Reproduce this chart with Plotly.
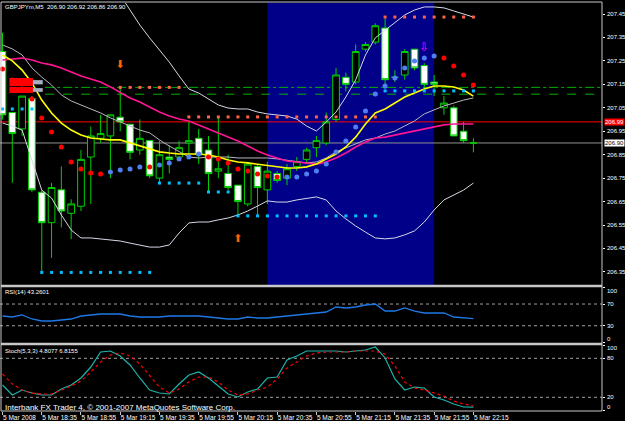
import plotly.graph_objects as go

# ---------------- data ----------------
symbol = "GBPJPYm,M5"
bar_times = ["18:15","18:20","18:25","18:30","18:35","18:40","18:45","18:50","18:55",
             "19:00","19:05","19:10","19:15","19:20","19:25","19:30","19:35","19:40","19:45","19:50","19:55",
             "20:00","20:05","20:10","20:15","20:20","20:25","20:30","20:35","20:40","20:45","20:50","20:55",
             "21:00","21:05","21:10","21:15","21:20","21:25","21:30","21:35","21:40","21:45","21:50","21:55",
             "22:00","22:05","22:10","22:15"]
tick_labels = ["5 Mar 2008","5 Mar 18:35","5 Mar 18:55","5 Mar 19:15","5 Mar 19:35","5 Mar 19:55",
               "5 Mar 20:15","5 Mar 20:35","5 Mar 20:55","5 Mar 21:15","5 Mar 21:35","5 Mar 21:55","5 Mar 22:15"]

open_ = [207.29,207.03,206.96,207.09,206.69,206.56,206.70,206.60,206.63,206.84,206.92,206.93,207.01,206.98,
         206.87,206.91,206.75,206.84,206.84,206.90,206.92,206.87,206.78,206.77,206.72,206.64,206.80,206.70,
         206.77,206.75,206.80,206.83,206.88,206.90,207.00,207.18,207.16,207.30,207.33,207.39,207.18,207.19,
         207.30,207.23,207.16,207.05,207.05,206.95,206.90]
high = [207.37,207.03,207.10,207.10,206.70,206.73,206.80,206.66,206.87,206.97,207.02,207.02,207.14,206.98,
        207.00,206.91,206.91,206.89,206.91,206.99,206.96,206.93,207.01,206.85,206.72,206.82,206.81,206.82,
        206.78,206.81,206.84,206.88,206.93,207.03,207.22,207.20,207.32,207.33,207.41,207.43,207.21,207.30,
        207.30,207.24,207.19,207.10,207.06,206.99,206.92]
low = [207.00,206.73,206.93,206.69,206.35,206.41,206.54,206.49,206.61,206.64,206.90,206.75,206.95,206.83,
       206.85,206.75,206.73,206.77,206.83,206.84,206.81,206.69,206.75,206.70,206.59,206.63,206.59,206.64,
       206.73,206.72,206.78,206.81,206.84,206.89,206.99,207.12,207.15,207.29,207.32,207.13,207.16,207.17,
       207.21,207.13,207.10,207.02,206.93,206.90,206.86]
close = [207.02,206.94,207.10,206.70,206.56,206.71,206.61,206.64,206.83,206.93,206.94,207.02,206.99,206.86,
         206.92,206.76,206.85,206.83,206.88,206.91,206.85,206.77,206.79,206.71,206.65,206.81,206.71,206.78,
         206.74,206.79,206.82,206.87,206.91,206.99,207.19,207.15,207.29,207.32,207.40,207.17,207.18,207.29,
         207.22,207.15,207.15,207.07,206.93,206.91,206.90]

bb_upper = [207.65,207.65,207.65,207.65,207.65,207.65,207.65,207.65,207.65,207.66,207.63,207.58,207.531,
            207.467,207.403,207.348,207.296,207.245,207.186,207.130,207.113,207.088,207.062,207.049,207.045,
            207.045,207.032,207.024,207.019,207.015,207.002,206.972,206.951,206.989,207.032,207.096,207.169,
            207.275,207.348,207.382,207.416,207.446,207.467,207.480,207.480,207.476,207.463,207.450,207.437]
bb_middle = [207.318,207.301,207.275,207.220,207.181,207.147,207.105,207.079,207.062,207.045,207.028,207.007,
             206.989,206.972,206.955,206.943,206.913,206.887,206.862,206.840,206.836,206.840,206.840,206.840,
             206.836,206.836,206.836,206.836,206.832,206.827,206.819,206.815,206.819,206.836,206.862,206.879,
             206.896,206.913,206.921,206.938,206.951,206.972,206.994,207.024,207.041,207.058,207.070,207.083,207.092]
bb_lower = [206.985,206.972,206.955,206.827,206.699,206.665,206.593,206.529,206.495,206.495,206.491,206.486,
            206.482,206.473,206.465,206.456,206.456,206.465,206.516,206.559,206.563,206.563,206.572,206.580,
            206.593,206.610,206.631,206.653,206.648,206.648,206.657,206.665,206.670,206.657,206.610,206.576,
            206.546,206.520,206.495,206.491,206.495,206.508,206.525,206.563,206.614,206.657,206.678,206.699,206.729]
ma_fast = [207.275,207.250,207.211,207.156,207.083,207.028,206.985,206.955,206.934,206.921,206.917,206.913,
           206.913,206.900,206.887,206.874,206.862,206.857,206.853,206.853,206.853,206.849,206.840,206.827,
           206.819,206.815,206.810,206.802,206.798,206.793,206.793,206.798,206.810,206.832,206.853,206.883,
           206.925,206.981,207.028,207.045,207.070,207.096,207.113,207.130,207.143,207.143,207.139,207.126,207.100]
ma_slow = [207.254,207.258,207.262,207.254,207.241,207.233,207.220,207.203,207.186,207.173,207.160,207.139,
           207.117,207.092,207.075,207.053,207.032,207.015,207.002,206.994,206.977,206.960,206.943,206.925,
           206.908,206.887,206.866,206.849,206.836,206.823,206.819,206.815,206.810,206.819,206.836,206.857,
           206.883,206.904,206.921,206.925,206.934,206.943,206.951,206.960,206.968,206.977,206.981,206.981,206.981]
sar = [207.215,207.169,207.130,207.088,207.007,206.947,206.883,206.819,206.789,206.772,206.768,206.776,
       206.785,206.789,206.798,206.798,206.806,206.815,206.832,206.840,206.853,206.840,206.832,206.815,
       206.789,206.780,206.768,206.759,206.755,206.755,206.755,206.768,206.780,206.810,206.862,206.908,
       206.968,207.036,207.109,207.143,207.177,207.220,207.250,207.262,207.271,207.262,207.228,207.190,207.147]
sar_side = ["R","R","R","R","R","R","R","R","R","R","R","B","B","B","B","R","B","B","B","B","B",
            "R","R","R","R","R","R","R","R","B","B","B","B","B","B","B","B","B","B","B","B","B","B","B","B",
            "R","R","R","R"]
resist_dots = [None]*12 + [207.137]*7 + [207.011]*20 + [207.437]*10
support_dots = [207.045]*4 + [206.348]*12 + [206.729]*5 + [206.691]*3 + [206.589]*15 + [207.122]*10

sell_arrow = {"bar": "19:15", "price": 207.233}
buy_arrow = {"bar": "20:15", "price": 206.490}
alert_arrow = {"bar": "21:50", "price": 207.305}

red_level = 206.99
green_levels = [207.137, 207.108]
price_ticks = [206.35,206.45,206.55,206.65,206.75,206.85,206.95,207.05,207.15,207.25,207.35,207.45]
session = ("20:30", "21:55")
rsi_ticks = [100, 70, 30, 0]
stoch_ticks = [100, 80, 20, 0]

rsi = [47.9,46.1,49.8,42.4,38.7,38.7,40.6,42.4,47.9,49.8,51.6,51.6,51.6,47.9,46.1,46.1,46.1,47.9,47.9,47.9,
       47.9,46.1,44.2,42.4,42.4,46.1,44.2,44.2,46.1,47.9,49.8,51.6,53.5,55.3,64.5,62.7,64.5,68.2,70.0,57.1,
       57.1,62.7,57.1,53.5,53.5,53.5,46.1,44.2,43.2601]
stoch_main = [38.9,23.5,31.2,26.6,23.5,23.5,32.8,38.9,49.7,66.6,89.7,91.2,83.5,69.7,49.7,31.2,26.6,25.1,40.5,54.3,
              58.9,49.7,37.4,25.1,20.5,28.2,32.8,49.7,51.2,77.4,83.5,91.2,91.2,91.2,91.2,89.7,91.2,92.8,97.4,80.5,
              48.2,31.2,35.8,34.3,20.5,15.8,9.7,5.1,4.8077]
stoch_signal = [55.8,40.5,31.2,26.6,25.1,25.1,31.2,37.4,45.1,58.9,74.3,85.1,88.2,83.5,71.2,52.8,35.8,26.6,32.8,43.5,
                51.2,51.2,43.5,31.2,23.5,25.1,31.2,35.8,48.2,65.1,74.3,83.5,88.2,89.7,89.7,89.7,91.2,91.2,91.2,86.6,
                68.2,43.5,34.3,31.2,26.6,22.0,14.3,9.7,6.8155]

# ---------------- figure ----------------
x = list(range(len(bar_times)))
FONT = "Liberation Sans"
W, H = 625, 421

def py(px):  # pixel row -> paper y
    return (H - px) / H

fig = go.Figure()

fig.add_trace(go.Candlestick(
    x=x, open=open_, high=high, low=low, close=close,
    increasing=dict(line=dict(color="#00d000", width=1), fillcolor="#000000"),
    decreasing=dict(line=dict(color="#00d000", width=1), fillcolor="#ffffff"),
    whiskerwidth=0, xaxis="x", yaxis="y", hoverinfo="skip"))

for s, col in [(bb_upper, "#d8d8e8"), (bb_middle, "#b8b8c0"), (bb_lower, "#d8d8e8")]:
    fig.add_trace(go.Scatter(x=x, y=s, mode="lines", line=dict(color=col, width=1), xaxis="x", yaxis="y"))
fig.add_trace(go.Scatter(x=x, y=ma_slow, mode="lines", line=dict(color="#ff1493", width=1.6), xaxis="x", yaxis="y"))
fig.add_trace(go.Scatter(x=x, y=ma_fast, mode="lines", line=dict(color="#ffff00", width=1.6), xaxis="x", yaxis="y"))

fig.add_trace(go.Scatter(x=x, y=resist_dots, mode="markers",
                         marker=dict(symbol="square", size=3, color="#ff6347"), xaxis="x", yaxis="y"))
fig.add_trace(go.Scatter(x=x, y=support_dots, mode="markers",
                         marker=dict(symbol="square", size=3, color="#00bfff"), xaxis="x", yaxis="y"))
fig.add_trace(go.Scatter(x=x, y=sar, mode="markers",
                         marker=dict(symbol="circle", size=5,
                                     color=["#ff0000" if s == "R" else "#4f7ff0" for s in sar_side]),
                         xaxis="x", yaxis="y"))

fig.add_trace(go.Scatter(x=[bar_times.index(sell_arrow["bar"])], y=[sell_arrow["price"]], mode="text",
                         text=["\u2b07"], textfont=dict(color="#ff6000", size=11, family="DejaVu Sans"),
                         xaxis="x", yaxis="y"))
fig.add_trace(go.Scatter(x=[bar_times.index(buy_arrow["bar"])], y=[buy_arrow["price"]], mode="text",
                         text=["\u2b06"], textfont=dict(color="#ff6000", size=11, family="DejaVu Sans"),
                         xaxis="x", yaxis="y"))
fig.add_trace(go.Scatter(x=[bar_times.index(alert_arrow["bar"])], y=[alert_arrow["price"]], mode="text",
                         text=["\u21e9"], textfont=dict(color="#ff00ff", size=12, family="DejaVu Sans"),
                         xaxis="x", yaxis="y"))

fig.add_trace(go.Scatter(x=x, y=rsi, mode="lines", line=dict(color="#1e78e6", width=1.3), xaxis="x", yaxis="y2"))
fig.add_trace(go.Scatter(x=x, y=stoch_main, mode="lines", line=dict(color="#20b2aa", width=1.2), xaxis="x", yaxis="y3"))
fig.add_trace(go.Scatter(x=x, y=stoch_signal, mode="lines", line=dict(color="#ff0000", width=1.2, dash="dot"),
                         xaxis="x", yaxis="y3"))

shapes = []
# session background
shapes.append(dict(type="rect", xref="x", yref="y domain", x0=bar_times.index(session[0]),
                   x1=bar_times.index(session[1]), y0=0, y1=1, fillcolor="#000088", line=dict(width=0),
                   layer="below"))
# horizontal levels
shapes.append(dict(type="line", xref="x domain", yref="y", x0=0, x1=1, y0=red_level, y1=red_level,
                   line=dict(color="#ff0000", width=1), layer="below"))
shapes.append(dict(type="line", xref="x domain", yref="y", x0=0, x1=1, y0=close[-1], y1=close[-1],
                   line=dict(color="#909090", width=1), layer="below"))
shapes.append(dict(type="line", xref="x domain", yref="y", x0=0.075, x1=1, y0=green_levels[0], y1=green_levels[0],
                   line=dict(color="#00b000", width=1, dash="dashdot"), layer="below"))
shapes.append(dict(type="line", xref="x domain", yref="y", x0=0.075, x1=1, y0=green_levels[1], y1=green_levels[1],
                   line=dict(color="#00b000", width=1, dash="dash"), layer="below"))
# label boxes at top-left
shapes.append(dict(type="rect", xref="x", yref="y", x0=0.7, x1=3.1, y0=207.143, y1=207.177,
                   fillcolor="#ff0000", line=dict(width=0)))
shapes.append(dict(type="rect", xref="x", yref="y", x0=0.7, x1=3.1, y0=207.113, y1=207.139,
                   fillcolor="#ff0000", line=dict(width=0)))
shapes.append(dict(type="rect", xref="x", yref="y", x0=3.1, x1=4.1, y0=207.150, y1=207.168,
                   fillcolor="#a8b0c0", line=dict(width=0)))
shapes.append(dict(type="rect", xref="x", yref="y", x0=3.1, x1=4.1, y0=207.118, y1=207.134,
                   fillcolor="#a8b0c0", line=dict(width=0)))
# oscillator levels
for yr, lv in [("y2", rsi_ticks[1]), ("y2", rsi_ticks[2]), ("y3", stoch_ticks[1]), ("y3", stoch_ticks[2])]:
    shapes.append(dict(type="line", xref="x domain", yref=yr, x0=0, x1=1, y0=lv, y1=lv,
                       line=dict(color="#a0a0a0", width=1, dash="dot"), layer="below"))
# frame
XR = 602 / W
frame = "#c8c8c8"
shapes += [
    dict(type="line", xref="paper", yref="paper", x0=0.0016, x1=XR, y0=py(2), y1=py(2), line=dict(color=frame, width=1)),
    dict(type="line", xref="paper", yref="paper", x0=0.0016, x1=XR, y0=py(286), y1=py(286), line=dict(color=frame, width=2.5)),
    dict(type="line", xref="paper", yref="paper", x0=0.0016, x1=XR, y0=py(344), y1=py(344), line=dict(color=frame, width=2.5)),
    dict(type="line", xref="paper", yref="paper", x0=0.0016, x1=XR, y0=py(411), y1=py(411), line=dict(color=frame, width=1)),
    dict(type="line", xref="paper", yref="paper", x0=0.0016, x1=0.0016, y0=py(411), y1=py(2), line=dict(color=frame, width=1)),
    dict(type="line", xref="paper", yref="paper", x0=XR, x1=XR, y0=py(411), y1=py(2), line=dict(color=frame, width=1)),
]

tf = dict(family=FONT, size=6, color="#ffffff")
sf = dict(family=FONT, size=6, color="#ffffff")
annotations = [
    dict(xref="paper", yref="paper", x=0.005, y=py(1.5), xanchor="left", yanchor="top", showarrow=False,
         text=f"{symbol}  {open_[-1]:.2f} {high[-1]:.2f} {low[-1]:.2f} {close[-1]:.2f}", font=tf),
    dict(xref="paper", yref="paper", x=0.005, y=py(286.5), xanchor="left", yanchor="top", showarrow=False,
         text=f"RSI(14) {rsi[-1]:.4f}", font=tf),
    dict(xref="paper", yref="paper", x=0.005, y=py(345.5), xanchor="left", yanchor="top", showarrow=False,
         text=f"Stoch(5,3,3) {stoch_main[-1]:.4f} {stoch_signal[-1]:.4f}", font=tf),
    dict(xref="paper", yref="paper", x=0.005, y=py(401), xanchor="left", yanchor="top", showarrow=False,
         text="Interbank FX Trader 4, \u00a9 2001-2007 MetaQuotes Software Corp.",
         font=dict(family=FONT, size=8, color="#ffffff")),
    dict(xref="paper", yref="y", x=604 / W, y=red_level, xanchor="left", yanchor="middle", showarrow=False,
         text=f"{red_level:.2f}", bgcolor="#ff0000", borderpad=0, font=dict(family=FONT, size=6, color="#ffffff")),
    dict(xref="paper", yref="y", x=604 / W, y=close[-1], xanchor="left", yanchor="middle", showarrow=False,
         text=f"{close[-1]:.2f}", bgcolor="#ffffff", borderpad=0, font=dict(family=FONT, size=6, color="#000000")),
]
# price scale labels
for v in price_ticks:
    annotations.append(dict(xref="paper", yref="y", x=606 / W, y=v, xanchor="left", yanchor="middle",
                            showarrow=False, text=f"{v:.2f}", font=sf, borderpad=0))
# oscillator scale labels (edge labels nudged inside the panel, as the terminal does)
for yr, ticks in [("y2", rsi_ticks), ("y3", stoch_ticks)]:
    for v in ticks:
        shift = -3 if v == 100 else (3 if v == 0 else 0)
        annotations.append(dict(xref="paper", yref=yr, x=606 / W, y=v, xanchor="left", yanchor="middle",
                                showarrow=False, text=str(v), yshift=shift, font=sf, borderpad=0))

x_range = [-0.255, -0.255 + 602 / 9.81]
ax_common = dict(showgrid=False, zeroline=False, side="right", anchor="x", ticks="outside", ticklen=2,
                 tickcolor="#ffffff", showticklabels=False, showline=False, automargin=False)

fig.update_layout(
    width=W, height=H, margin=dict(l=0, r=0, t=0, b=0, autoexpand=False),
    paper_bgcolor="#000000", plot_bgcolor="#000000", showlegend=False,
    boxgap=0.2, boxgroupgap=0.15,
    xaxis=dict(domain=[0, XR], range=x_range, anchor="y3", showgrid=False, zeroline=False,
               rangeslider=dict(visible=False), tickvals=list(range(0, len(bar_times), 4)),
               ticktext=tick_labels, ticks="outside", ticklen=3, tickcolor="#c8c8c8", tickangle=0,
               ticklabelposition="outside right", tickfont=dict(family=FONT, size=6.5, color="#ffffff"),
               showline=False, automargin=False),
    yaxis=dict(domain=[py(285), py(3)], range=[206.2943, 207.4969], tickvals=price_ticks, **ax_common),
    yaxis2=dict(domain=[py(343), py(287)], range=[-1.84, 101.38], tickvals=rsi_ticks, **ax_common),
    yaxis3=dict(domain=[py(411), py(345)], range=[-1.08, 100.46], tickvals=stoch_ticks, **ax_common),
    shapes=shapes, annotations=annotations,
)

fig.write_html("out.html")
